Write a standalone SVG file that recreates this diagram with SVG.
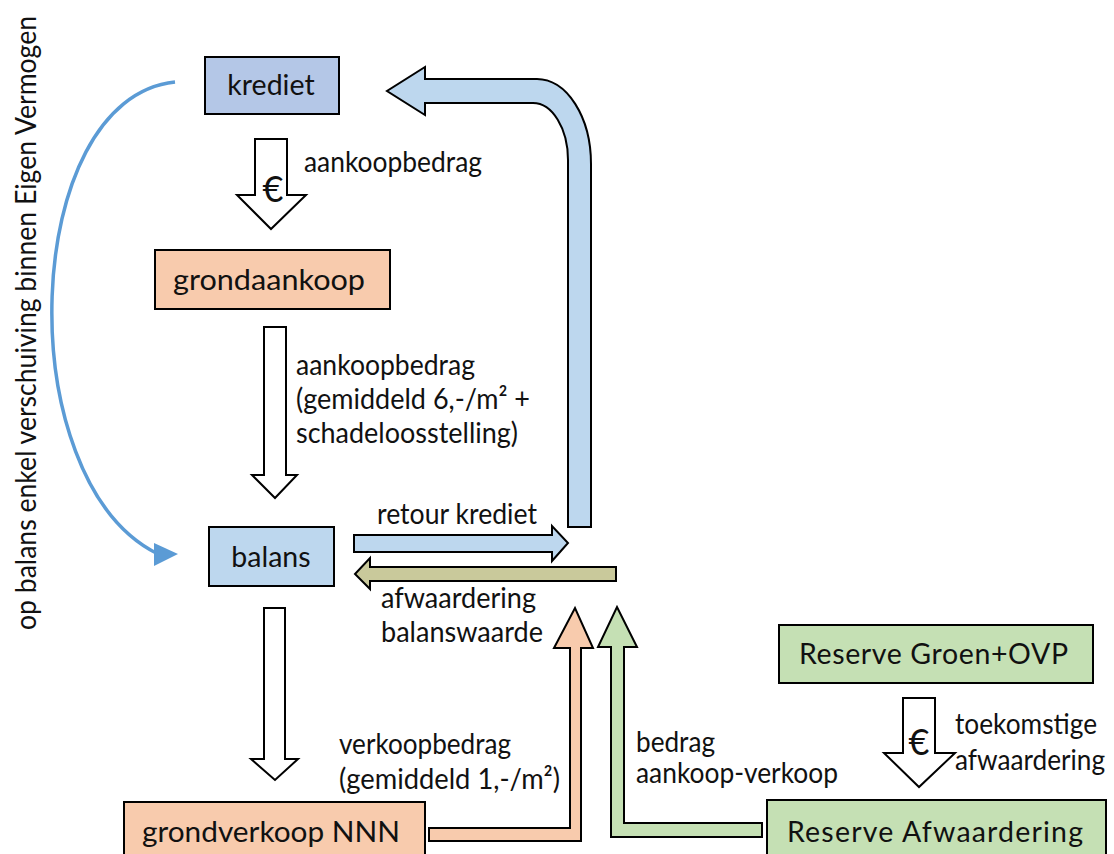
<svg xmlns="http://www.w3.org/2000/svg" width="1114" height="854" viewBox="0 0 1114 854">
<style>
.box{stroke:#000;stroke-width:2}
.arr{stroke:#000;stroke-width:2;stroke-linejoin:miter}
.t{font-family:Lato,"Open Sans","Liberation Sans",sans-serif;font-size:28.5px;fill:#111}
.c{text-anchor:middle}
.eur{font-family:Lato,"Open Sans","Liberation Sans",sans-serif;font-size:36px;fill:#111;text-anchor:middle}
</style>
<rect width="1114" height="854" fill="#fff"/>
<g id="connectors">
  <g id="arrow-op-balans">
    <path d="M175,82 C20,98 8,480 158,554" fill="none" stroke="#5B9BD5" stroke-width="3.5"/>
    <polygon points="154,543 178,554 154,566" fill="#5B9BD5"/>
  </g>
  <polygon id="arrow-krediet-grondaankoop" class="arr" fill="#fff" points="255,139 287,139 287,195 306,195 271,229 237,195 255,195"/>
  <polygon id="arrow-grondaankoop-balans" class="arr" fill="#fff" points="264,327 286,327 286,475 297,475 275,498 252,475 264,475"/>
  <polygon id="arrow-balans-grondverkoop" class="arr" fill="#fff" points="264,608 285,608 285,759 298,759 275,780 251,759 264,759"/>
  <polygon id="arrow-groen-afwaardering" class="arr" fill="#fff" points="903,698 935,698 935,753 955,753 919,787 884,753 903,753"/>
  <polygon id="arrow-retour-krediet" class="arr" fill="#BDD7EE" points="354,535 552,535 552,526 568,543 552,561 552,552 354,552"/>
  <polygon id="arrow-afwaardering-balans" class="arr" fill="#C9C99B" points="616,567 370,567 370,558 355,574 370,589 370,581 616,581"/>
  <path id="arrow-krediet-return" class="arr" fill="#BDD7EE" d="M591,527 L591,164 A54,85 0 0 0 537,79 L425,79 L425,67 L387,91 L425,115 L425,103 L533,103 A35,57 0 0 1 568,160 L568,527 Z"/>
  <polygon id="arrow-verkoop" class="arr" fill="#F8CBAD" points="429,828 570,828 570,648 554,648 575,608 593,648 581,648 581,841 429,841"/>
  <polygon id="arrow-reserve" class="arr" fill="#C5E0B4" points="762,823 624,823 624,647 637,647 617,607 598,647 611,647 611,837 762,837"/>
  <g id="connector-labels">
    <text class="t" x="304" y="172" textLength="178" lengthAdjust="spacingAndGlyphs">aankoopbedrag</text>
    <text class="eur" x="273" y="202">€</text>
    <text class="t" x="296" y="375" textLength="179" lengthAdjust="spacingAndGlyphs">aankoopbedrag</text>
    <text class="t" x="296" y="409" textLength="234" lengthAdjust="spacingAndGlyphs">(gemiddeld 6,-/m² +</text>
    <text class="t" x="296" y="443" textLength="222" lengthAdjust="spacingAndGlyphs">schadeloosstelling)</text>
    <text class="t" x="377" y="524" textLength="160" lengthAdjust="spacingAndGlyphs">retour krediet</text>
    <text class="t" x="381" y="608" textLength="155" lengthAdjust="spacingAndGlyphs">afwaardering</text>
    <text class="t" x="381" y="642" textLength="162" lengthAdjust="spacingAndGlyphs">balanswaarde</text>
    <text class="t" x="339" y="754" textLength="172" lengthAdjust="spacingAndGlyphs">verkoopbedrag</text>
    <text class="t" x="339" y="789" textLength="221" lengthAdjust="spacingAndGlyphs">(gemiddeld 1,-/m²)</text>
    <text class="t" x="636" y="752" textLength="79" lengthAdjust="spacingAndGlyphs">bedrag</text>
    <text class="t" x="636" y="783" textLength="202" lengthAdjust="spacingAndGlyphs">aankoop-verkoop</text>
    <text class="eur" x="919" y="755">€</text>
    <text class="t" x="955" y="734" textLength="142" lengthAdjust="spacingAndGlyphs">toekomstige</text>
    <text class="t" x="955" y="770" font-size="27.5" textLength="150" lengthAdjust="spacingAndGlyphs">afwaardering</text>
    <text class="t" transform="translate(36,630) rotate(-90)" x="0" y="0" font-size="23.5" textLength="614" lengthAdjust="spacingAndGlyphs">op balans enkel verschuiving binnen Eigen Vermogen</text>
  </g>
</g>
<g id="krediet">
  <rect class="box" x="205" y="57" width="134" height="57" fill="#B4C7E7"/>
  <text class="t c" x="271" y="95">krediet</text>
</g>
<g id="grondaankoop">
  <rect class="box" x="155" y="250" width="235" height="59" fill="#F8CBAD"/>
  <text class="t c" x="269" y="290" textLength="192" lengthAdjust="spacingAndGlyphs">grondaankoop</text>
</g>
<g id="balans">
  <rect class="box" x="209" y="527" width="125" height="59" fill="#BDD7EE"/>
  <text class="t c" x="271" y="567">balans</text>
</g>
<g id="grondverkoop">
  <rect class="box" x="124" y="802" width="301" height="62" fill="#F8CBAD"/>
  <text class="t" x="142" y="842" textLength="258" lengthAdjust="spacingAndGlyphs">grondverkoop NNN</text>
</g>
<g id="reserve-groen">
  <rect class="box" x="779" y="625" width="314" height="58" fill="#C5E0B4"/>
  <text class="t" x="799" y="664" textLength="269" lengthAdjust="spacing">Reserve Groen+OVP</text>
</g>
<g id="reserve-afwaardering">
  <rect class="box" x="767" y="800" width="339" height="64" fill="#C5E0B4"/>
  <text class="t" x="787" y="842" textLength="296" lengthAdjust="spacing">Reserve Afwaardering</text>
</g>
</svg>
